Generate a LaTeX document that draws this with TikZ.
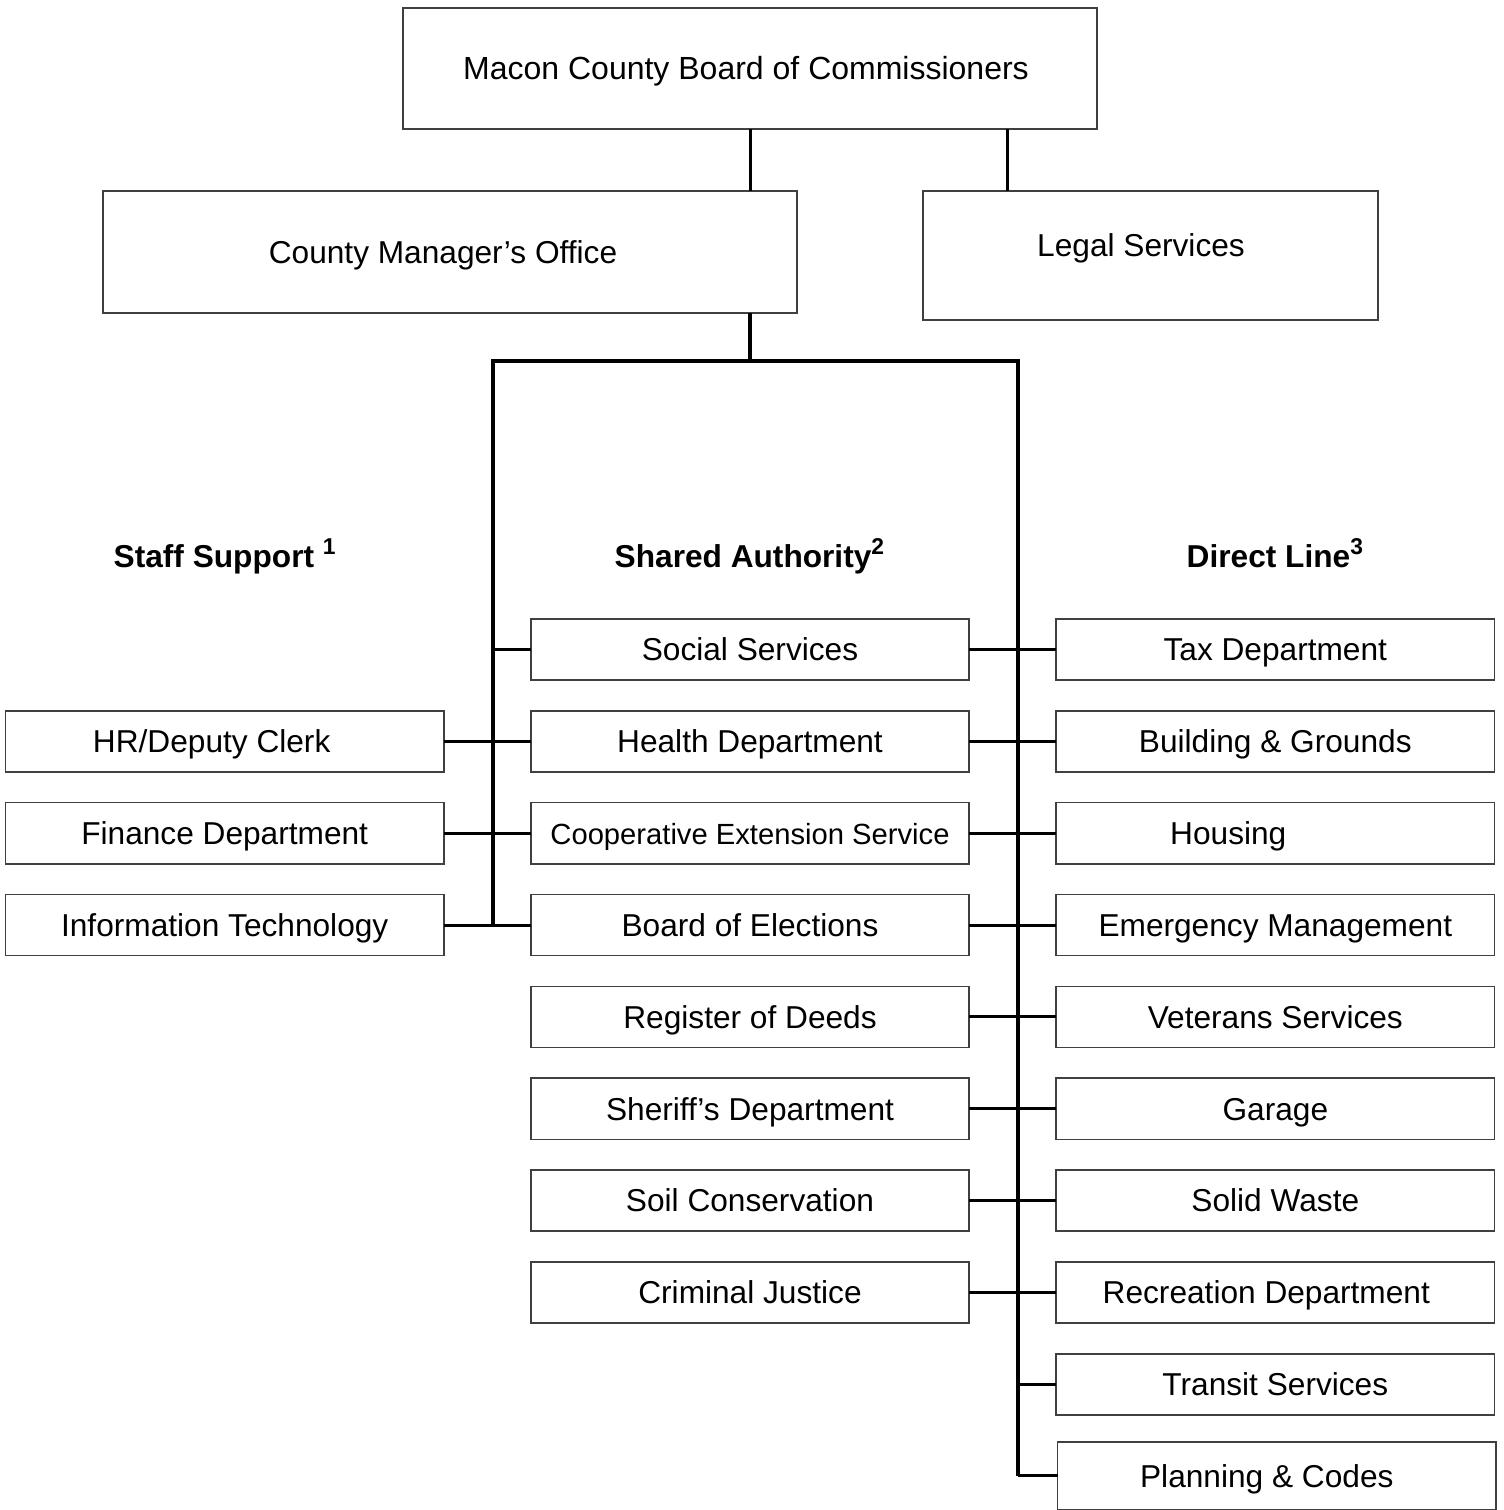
\documentclass[tikz,border=0pt]{standalone}
\usepackage{fontspec}
\setmainfont{Liberation Sans}
\usetikzlibrary{positioning}

\tikzset{
  txt/.style={font=\fontsize{9}{11}\selectfont, text height=6.4pt, text depth=0pt},
  unit/.style={txt, draw=black!75, line width=0.45pt, minimum width=4.38cm, minimum height=0.61cm, inner sep=0pt, outer sep=0pt},
  head/.style={anchor=base west, inner sep=0pt, font=\bfseries\fontsize{9}{11}\selectfont},
  link/.style={line width=0.85pt},
  trunk/.style={line width=1.25pt},
}
\newcommand{\notenum}[1]{\textsuperscript{\fontsize{6.5}{7}\selectfont #1}}

\begin{document}
\begin{tikzpicture}[x=0.01cm, y=-0.01cm, node distance=0.308cm and 0.87cm]
  \useasboundingbox (0,0) rectangle (1503,1510);

  % oberste ebene
  \node[unit, minimum width=6.94cm, minimum height=1.21cm, font=\fontsize{9.1}{11}\selectfont] (board) at (750,68.5) {Macon County Board of Commissioners\hspace*{0.08cm}};
  \node[unit, minimum width=6.94cm, minimum height=1.22cm] (manager) at (450,252) {County Manager's Office\hspace*{0.14cm}};
  \node[unit, minimum width=4.55cm, minimum height=1.29cm,
        label={[name=legaltxt, txt, inner sep=0pt, shift={(-9.5,-10.5)}]center:Legal Services}] (legal) at (1150.5,255.5) {};

  % spaltenkoepfe
  \node[head] (staffhead)  at (113,568)  {Staff Support \notenum{1}};
  \node[head] (sharedhead) at (614,568)  {Shared Authority\notenum{2}};
  \node[head] (directhead) at (1186,568) {Direct Line\notenum{3}};

  % mittlere spalte
  \node[unit] (social) at (750,649.5) {Social Services};
  \node[unit, below=of social] (health) {Health Department};
  \node[unit, below=of health, font=\fontsize{8.3}{10}\selectfont] (coop) {Cooperative Extension Service};
  \node[unit, below=of coop] (elections) {Board of Elections};
  \node[unit, below=of elections] (deeds) {Register of Deeds};
  \node[unit, below=of deeds] (sheriff) {Sheriff's Department};
  \node[unit, below=of sheriff] (soil) {Soil Conservation};
  \node[unit, below=of soil] (justice) {Criminal Justice};

  % linke spalte
  \node[unit, left=of health] (hr) {HR/Deputy Clerk\hspace*{0.26cm}};
  \node[unit, left=of coop] (finance) {Finance Department};
  \node[unit, left=of elections] (it) {Information Technology};

  % rechte spalte
  \node[unit, right=of social] (tax) {Tax Department};
  \node[unit, below=of tax] (grounds) {Building \& Grounds};
  \node[unit, below=of grounds] (housing) {Housing\hspace*{0.94cm}};
  \node[unit, below=of housing] (emergency) {Emergency Management};
  \node[unit, below=of emergency] (veterans) {Veterans Services};
  \node[unit, below=of veterans] (garage) {Garage};
  \node[unit, below=of garage] (waste) {Solid Waste};
  \node[unit, below=of waste] (recreation) {Recreation Department\hspace*{0.18cm}};
  \node[unit, below=of recreation] (transit) {Transit Services};
  \node[unit, below=0.27cm of transit, minimum height=0.68cm, xshift=0.015cm] (planning) {Planning \& Codes\hspace*{0.2cm}};

  % verbindungen oben
  \coordinate (legaltap) at (1007,129);
  \draw[link] (board.south) -- (board.south |- manager.north);
  \draw[link] (legaltap) -- (legaltap |- legal.north);

  % sammelschienen
  \coordinate (hub) at (750,361);
  \coordinate (lefttop) at (493,361);
  \coordinate (righttop) at (1018,361);
  \draw[trunk] (hub |- manager.south) -- (hub);
  \draw[trunk] (lefttop |- elections.west) -- (lefttop) -- (righttop) -- (righttop |- planning.west);

  % abzweige
  \foreach \s/\m in {hr/health, finance/coop, it/elections}
    \draw[link] (\s.east) -- (\m.west);
  \draw[link] (lefttop |- social.west) -- (social.west);
  \foreach \m/\r in {social/tax, health/grounds, coop/housing, elections/emergency, deeds/veterans, sheriff/garage, soil/waste, justice/recreation}
    \draw[link] (\m.east) -- (\r.west);
  \foreach \r in {transit, planning}
    \draw[link] (righttop |- \r.west) -- (\r.west);
\end{tikzpicture}
\end{document}
